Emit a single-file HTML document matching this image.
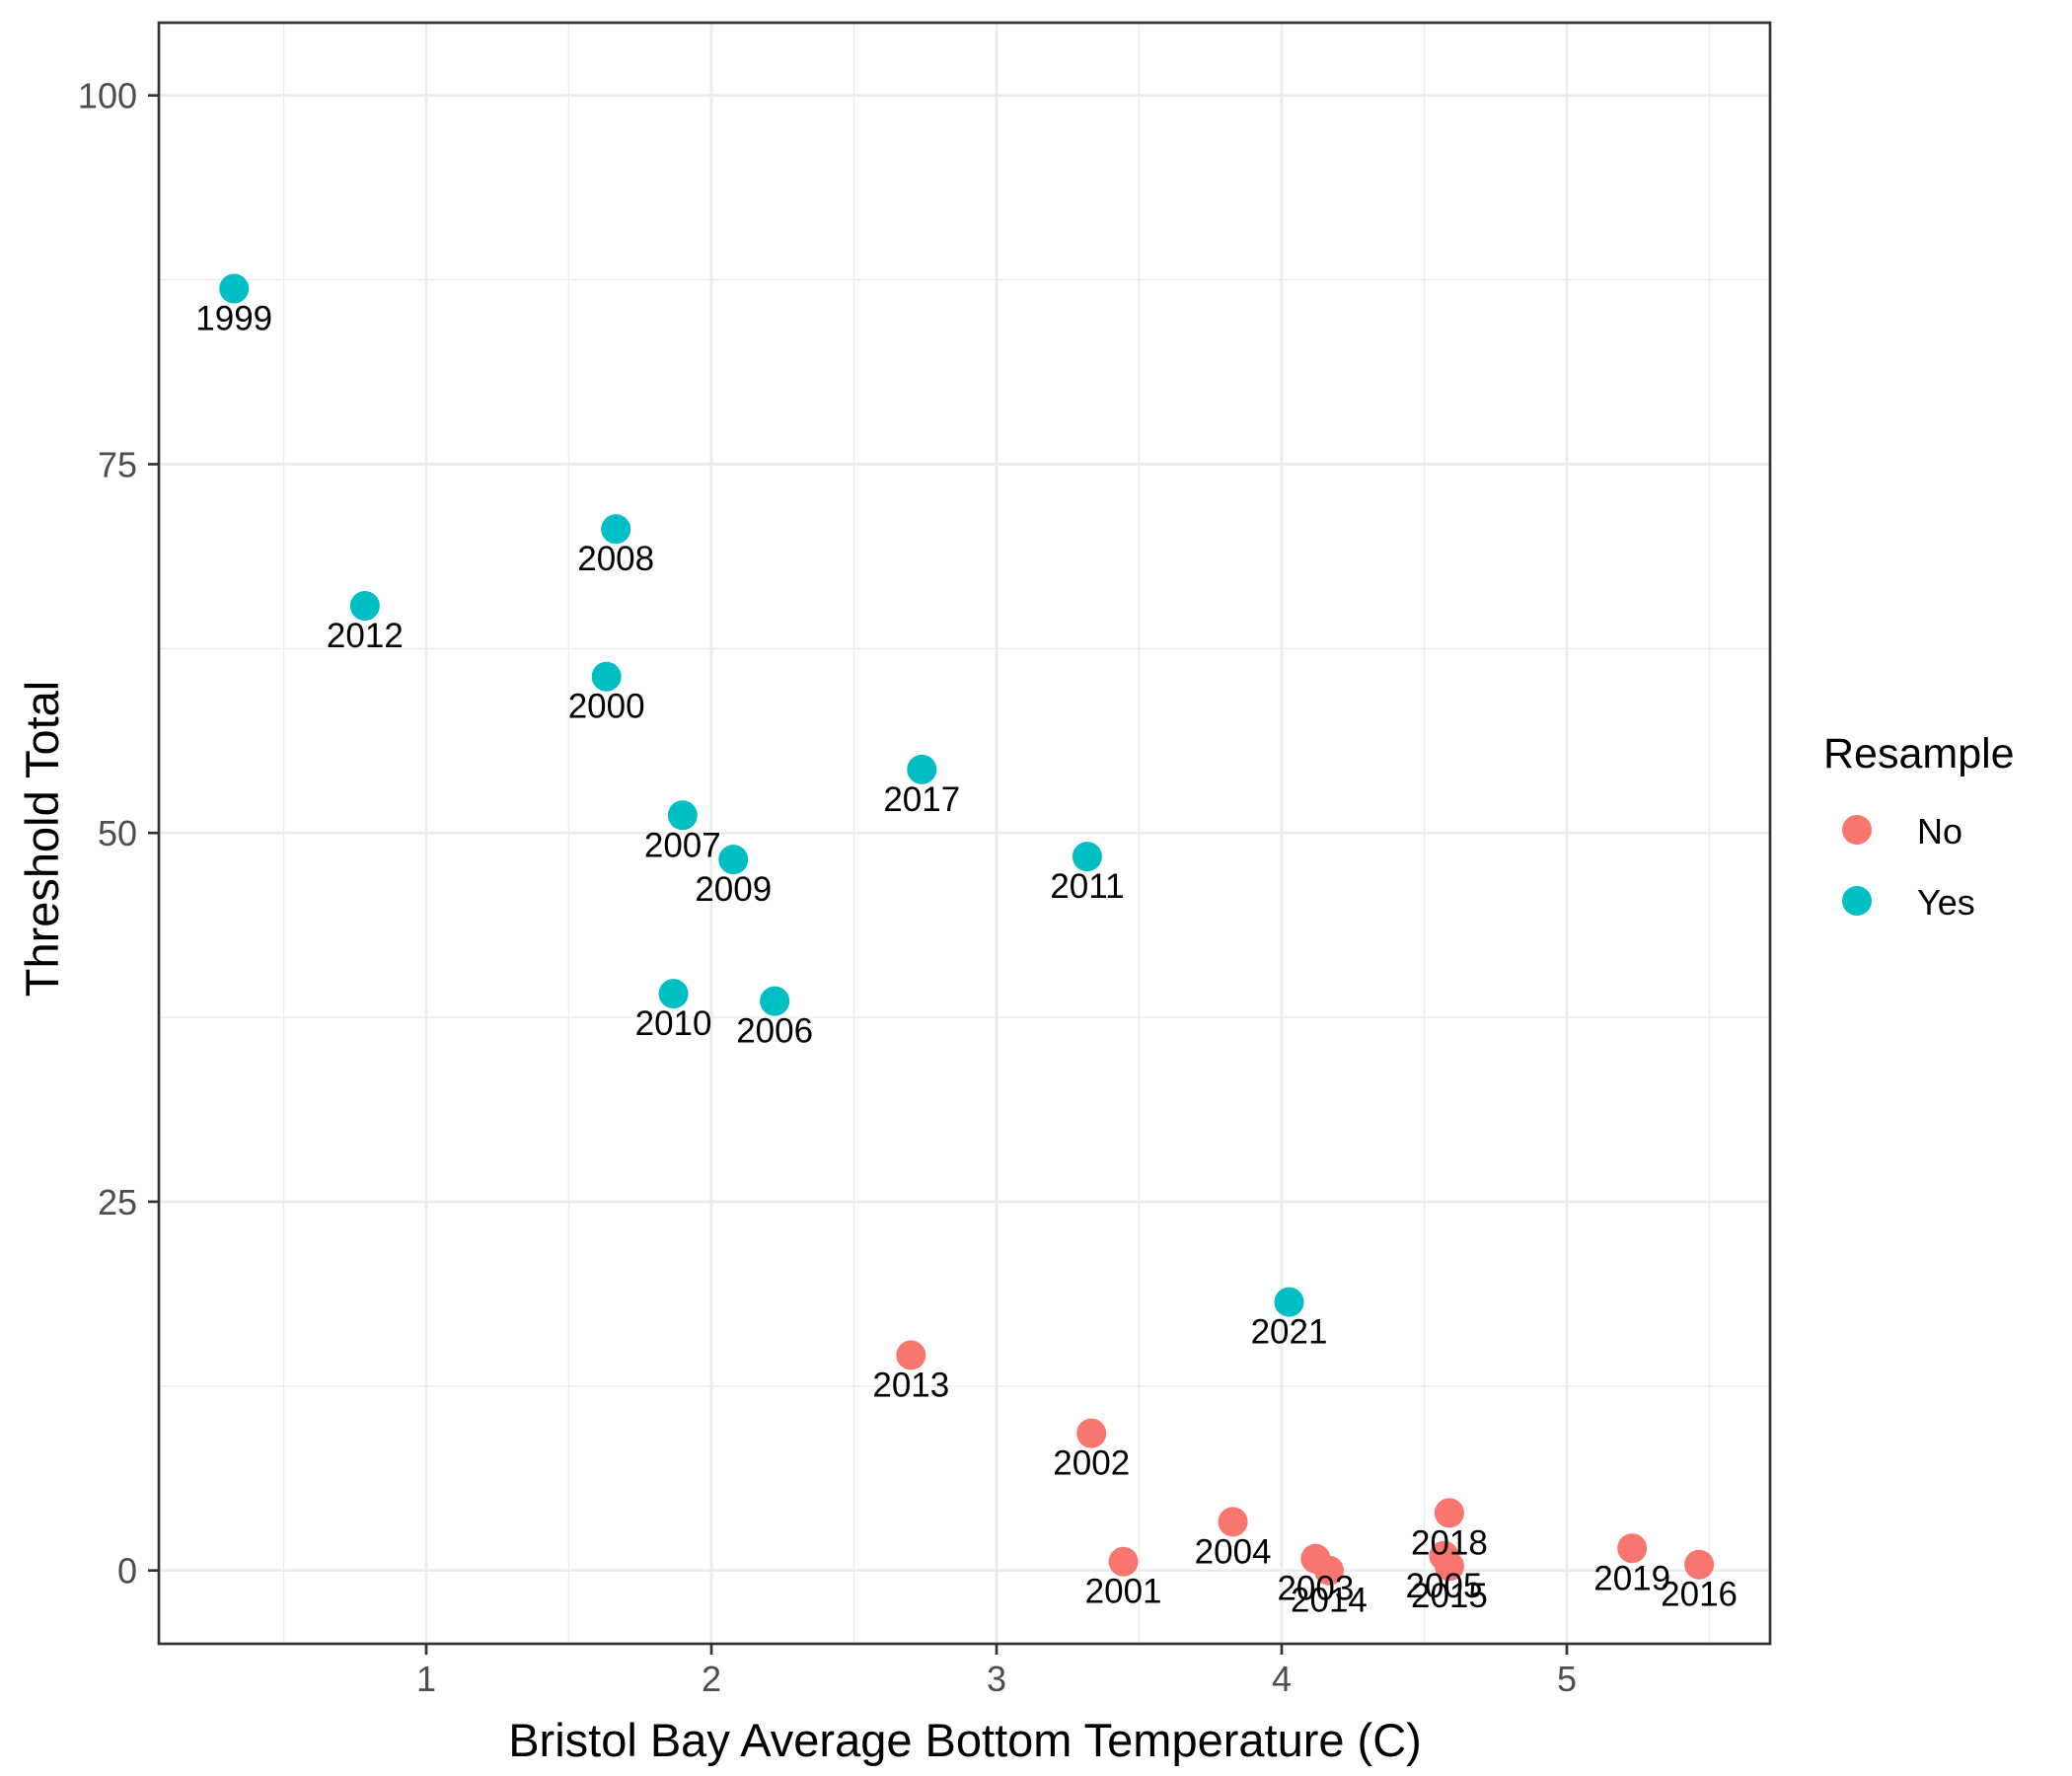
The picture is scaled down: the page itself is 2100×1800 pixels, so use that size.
<!DOCTYPE html>
<html><head><meta charset="utf-8"><style>
html,body{margin:0;padding:0;background:#fff}
svg{display:block;font-family:"Liberation Sans",Arial,sans-serif}
</style></head><body>
<svg id="chart" width="2100" height="1800" viewBox="0 0 2100 1800" xmlns="http://www.w3.org/2000/svg">
<rect x="0" y="0" width="2100" height="1800" fill="#fff"/>
<g id="grid"></g>
<g id="points"></g>
<g id="labels"></g>
<rect x="161" y="23" width="1633" height="1643" fill="none" stroke="#333" stroke-width="2.7"/>
<g id="axes"></g>
<text x="978" y="1780" font-size="47" text-anchor="middle" fill="#000">Bristol Bay Average Bottom Temperature (C)</text>
<text x="0" y="0" font-size="47" text-anchor="middle" fill="#000" transform="translate(59,850) rotate(-90)">Threshold Total</text>
<g>
<text x="1848" y="778" font-size="43" fill="#000">Resample</text>
<g>
<circle cx="1882" cy="841" r="15" fill="#F8766D"/>
<text x="1943" y="855" font-size="36" fill="#000">No</text>
</g>
<g>
<circle cx="1882" cy="913" r="15" fill="#00BFC4"/>
<text x="1943" y="927" font-size="36" fill="#000">Yes</text>
</g>
</g>
</svg>
<script>
const years = ["1999","2012","2008","2000","2017","2007","2009","2011","2010","2006","2021","2013","2002","2004","2001","2003","2014","2018","2005","2015","2019","2016"];
const temps = [0.326,0.785,1.665,1.632,2.738,1.899,2.077,3.318,1.867,2.222,4.026,2.70,3.333,3.829,3.445,4.119,4.166,4.588,4.569,4.588,5.229,5.464];
const totals = [86.9,65.4,70.6,60.6,54.3,51.2,48.2,48.4,39.1,38.6,18.2,14.6,9.3,3.3,0.6,0.8,0.0,3.9,1.0,0.3,1.5,0.4];
const resample = ["Yes","Yes","Yes","Yes","Yes","Yes","Yes","Yes","Yes","Yes","Yes","No","No","No","No","No","No","No","No","No","No","No"];
const xTicks = [1,2,3,4,5];
const yTicks = [0,25,50,75,100];
const xMinor = [0.5,1.5,2.5,3.5,4.5,5.5];
const yMinor = [12.5,37.5,62.5,87.5];

const PL=161,PT=23,PR=1794,PB=1666;
function xs(v){return 432+(v-1)*289;}
function ys(v){return 1591.7-v*14.95;}
const NS="http://www.w3.org/2000/svg";
function mk(tag,attrs,parent){const e=document.createElementNS(NS,tag);for(const k in attrs)e.setAttribute(k,attrs[k]);parent.appendChild(e);return e;}
const grid=document.getElementById('grid'),axes=document.getElementById('axes'),pts=document.getElementById('points'),lbs=document.getElementById('labels');
xMinor.forEach(v=>{const l=mk('line',{x1:xs(v),x2:xs(v),y1:PT,y2:PB,stroke:'#EBEBEB','stroke-width':1.4},grid);

});
yMinor.forEach(v=>{const l=mk('line',{x1:PL,x2:PR,y1:ys(v),y2:ys(v),stroke:'#EBEBEB','stroke-width':1.4},grid);

});
xTicks.forEach(v=>{const l=mk('line',{x1:xs(v),x2:xs(v),y1:PT,y2:PB,stroke:'#EBEBEB','stroke-width':2.7},grid);


const t=mk('line',{x1:xs(v),x2:xs(v),y1:PB,y2:PB+11,stroke:'#333','stroke-width':2.7},axes);


const tx=mk('text',{x:xs(v),y:PB+48,'font-size':36,'text-anchor':'middle',fill:'#4D4D4D'},axes);tx.textContent=v;

});
yTicks.forEach(v=>{const l=mk('line',{x1:PL,x2:PR,y1:ys(v),y2:ys(v),stroke:'#EBEBEB','stroke-width':2.7},grid);


const t=mk('line',{x1:PL-11,x2:PL,y1:ys(v),y2:ys(v),stroke:'#333','stroke-width':2.7},axes);


const tx=mk('text',{x:139,y:ys(v)+13,'font-size':36,'text-anchor':'end',fill:'#4D4D4D'},axes);tx.textContent=v;

});
years.forEach((yr,i)=>{const cx=xs(temps[i]),cy=ys(totals[i]);
const c=mk('circle',{cx:cx,cy:cy,r:15,fill:resample[i]==='Yes'?'#00BFC4':'#F8766D'},pts);


const t=mk('text',{x:cx,y:cy+42,'font-size':35,'text-anchor':'middle',fill:'#000'},lbs);t.textContent=yr;

});
</script>
</body></html>
